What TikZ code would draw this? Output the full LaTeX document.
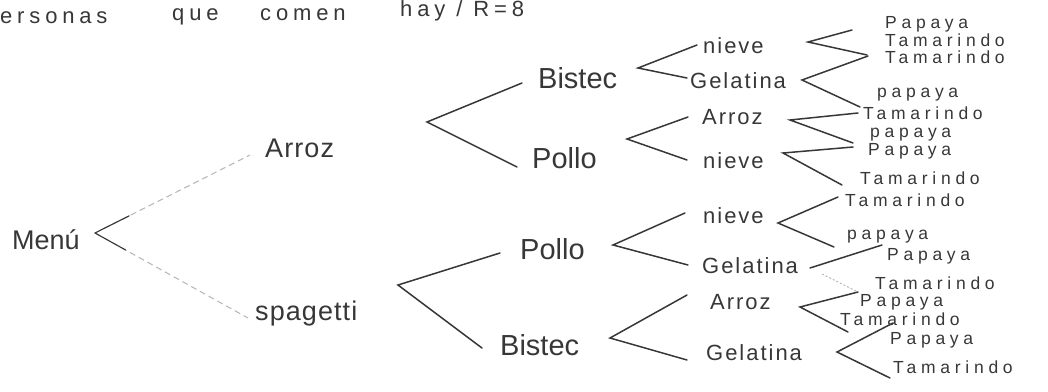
\documentclass[tikz,border=0pt]{standalone}
\usepackage{fontspec}
\newfontfamily\handfont{Liberation Sans}
\usetikzlibrary{calc}
\definecolor{ink}{RGB}{55,55,55}
\definecolor{pencil}{RGB}{185,185,185}
\newcommand{\titlefont}{\handfont\fontsize{22}{24}\selectfont\addfontfeature{LetterSpace=22}}
\newcommand{\rootfont}{\handfont\fontsize{27}{29}\selectfont}
\newcommand{\firstfont}{\handfont\fontsize{27}{29}\selectfont\addfontfeature{LetterSpace=4}}
\newcommand{\mainfont}{\handfont\fontsize{29}{31}\selectfont}
\newcommand{\sidefont}{\handfont\fontsize{22}{24}\selectfont\addfontfeature{LetterSpace=9}}
\newcommand{\leaffont}{\handfont\fontsize{17.5}{19}\selectfont\addfontfeature{LetterSpace=27}}

\begin{document}
\begin{tikzpicture}[x=1pt, y=-1pt,
    hand/.style={anchor=west, inner sep=0pt, text=ink},
    headline/.style={hand, font=\titlefont},
    rootlbl/.style={hand, font=\rootfont},
    firstlbl/.style={hand, font=\firstfont},
    mainlbl/.style={hand, font=\mainfont},
    sidelbl/.style={hand, font=\sidefont},
    leaf/.style={hand, font=\leaffont},
    arm/.style={draw=ink, line width=1.5pt, line cap=round},
    faint/.style={draw=pencil, line width=1.1pt, dash pattern=on 6pt off 4pt}
]
\useasboundingbox (0,0) rectangle (1048,391);

% heading
\node[headline] (w1) at (0,18) {ersonas};
\node[headline] (w2) at (172,17) {que};
\node[headline] (w3) at (260,15) {comen};
\node[headline] (w4) at (400,11) {hay / R=8};

% tree labels
\node[rootlbl] (menu) at (12,240) {Menú};
\node[firstlbl] (arroz) at (265,148) {Arroz};
\node[firstlbl] (spag) at (255,314) {spagetti};

\node[mainlbl] (bistA) at (538,78) {Bistec};
\node[mainlbl] (polloA) at (532,158) {Pollo};
\node[mainlbl] (polloB) at (520,249) {Pollo};
\node[mainlbl] (bistB) at (500,345) {Bistec};

\node[sidelbl] (nieveA) at (703,46) {nieve};
\node[sidelbl] (gelA) at (690,81) {Gelatina};
\node[sidelbl] (arrozB) at (702,117) {Arroz};
\node[sidelbl] (nieveB) at (703,161) {nieve};
\node[sidelbl] (nieveC) at (703,216) {nieve};
\node[sidelbl] (gelC) at (702,266) {Gelatina};
\node[sidelbl] (arrozD) at (710,302) {Arroz};
\node[sidelbl] (gelD) at (706,353) {Gelatina};

\node[leaf] (p1) at (885,24) {Papaya};
\node[leaf] (p2) at (885,40) {Tamarindo};
\node[leaf] (p3) at (885,57) {Tamarindo};
\node[leaf] (p4) at (877,95) {papaya};
\node[leaf] (p5) at (863,113) {Tamarindo};
\node[leaf] (p6) at (870,135) {papaya};
\node[leaf] (p7) at (868,151) {Papaya};
\node[leaf] (p8) at (860,178) {Tamarindo};
\node[leaf] (p9) at (845,200) {Tamarindo};
\node[leaf] (p10) at (847,237) {papaya};
\node[leaf] (p11) at (887,256) {Papaya};
\node[leaf] (p12) at (875,283) {Tamarindo};
\node[leaf] (p13) at (860,302) {Papaya};
\node[leaf] (p14) at (840,319) {Tamarindo};
\node[leaf] (p15) at (890,340) {Papaya};
\node[leaf] (p16) at (893,367) {Tamarindo};

% branch points
\coordinate (vM) at (95,233);
\coordinate (vA) at (427,122);
\coordinate (vB) at (398,285);
\coordinate (vC) at (638,68);
\coordinate (vD) at (627,139);
\coordinate (vE) at (613,245);
\coordinate (vF) at (610,338);
\coordinate (vG) at (808,42);
\coordinate (vH) at (802,80);
\coordinate (vI) at (790,120);
\coordinate (vJ) at (783,153);
\coordinate (vK) at (778,223);
\coordinate (vL) at (800,307);
\coordinate (vN) at (837,352);
\coordinate (gelCend) at (810,268);

% menu branches (pencil)
\coordinate (eArroz) at ([shift={(-15,7)}]arroz.west);
\coordinate (eSpag) at ([shift={(-7,4)}]spag.west);
\draw[faint] (vM) -- (eArroz);
\draw[faint] (vM) -- (eSpag);
\draw[arm, line width=1.1pt] ($(vM)!0.22!(eArroz)$) -- (vM) -- ($(vM)!0.2!(eSpag)$);

\draw[arm] ([shift={(-16,5)}]bistA.west) -- (vA) -- ([shift={(-15,9)}]polloA.west);
\draw[arm] ([shift={(-20,4)}]polloB.west) -- (vB) -- ([shift={(-18,3)}]bistB.west);

\draw[arm] ([shift={(-6,-1)}]nieveA.west) -- (vC) -- ([shift={(-3,-3)}]gelA.west);
\draw[arm] ([shift={(-14,0)}]arrozB.west) -- (vD) -- ([shift={(-16,-1)}]nieveB.west);
\draw[arm] ([shift={(-18,-3)}]nieveC.west) -- (vE) -- ([shift={(-14,-1)}]gelC.west);
\draw[arm] ([shift={(-23,-7)}]arrozD.west) -- (vF) -- ([shift={(-19,7)}]gelD.west);

\draw[arm] ([shift={(-33,6)}]p1.west) -- (vG) -- ([shift={(-18,-2)}]p3.west);
\draw[arm] ([shift={(-17,-1)}]p3.west) -- (vH) -- ([shift={(-3,-6)}]p5.west);
\draw[arm] ([shift={(-5,0)}]p5.west) -- (vI) -- ([shift={(-15,-8)}]p7.west);
\draw[arm] ([shift={(-15,-4)}]p7.west) -- (vJ) -- ([shift={(-18,7)}]p8.west);
\draw[arm] ([shift={(-7,-3)}]p9.west) -- (vK) -- ([shift={(-13,10)}]p10.west);
\draw[arm] (gelCend) -- ([shift={(-5,-11)}]p11.west);
\draw[faint, dash pattern=on 2pt off 2pt] ([shift={(12,6)}]gelCend) -- ([shift={(-17,9)}]p12.west);
\draw[arm] ([shift={(-17,9)}]p12.west) -- (vL) -- ([shift={(8,13)}]p14.west);
\draw[arm] ([shift={(3,-17)}]p15.west) -- (vN) -- ([shift={(-3,11)}]p16.west);
\end{tikzpicture}
\end{document}
